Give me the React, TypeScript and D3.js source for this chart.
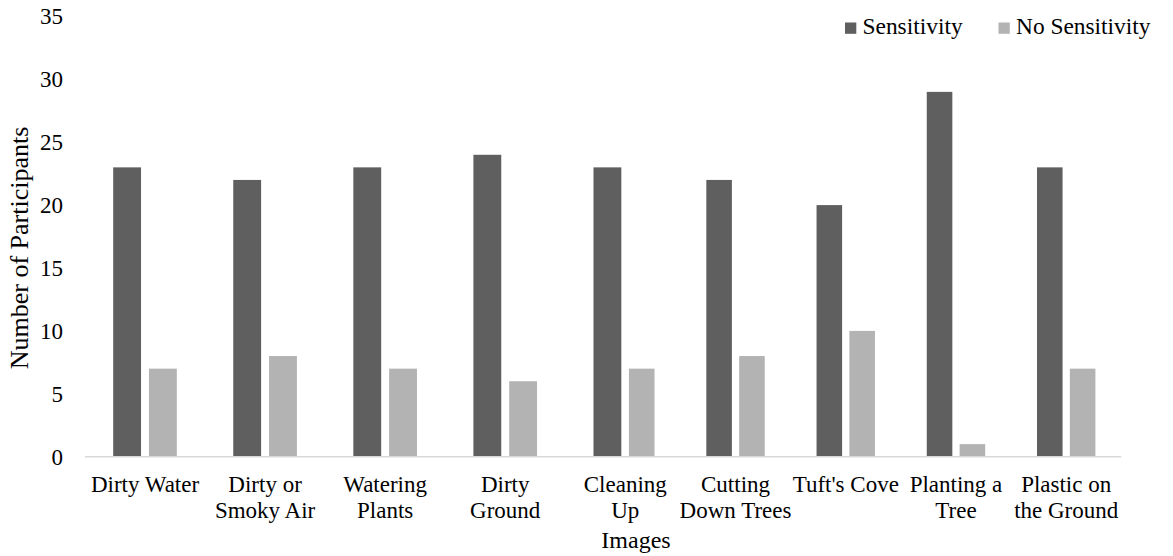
import React from "react";
import * as d3 from "d3";

// Participant counts per image
const categories: string[] = [
  "Dirty Water",
  "Dirty or\nSmoky Air",
  "Watering\nPlants",
  "Dirty\nGround",
  "Cleaning\nUp",
  "Cutting\nDown Trees",
  "Tuft's Cove",
  "Planting a\nTree",
  "Plastic on\nthe Ground",
];
const sensitivity: number[] = [23, 22, 23, 24, 23, 22, 20, 29, 23];
const noSensitivity: number[] = [7, 8, 7, 6, 7, 8, 10, 1, 7];
const yTicks: number[] = [0, 5, 10, 15, 20, 25, 30, 35];
const seriesNames: string[] = ["Sensitivity", "No Sensitivity"];

const W = 1173;
const H = 556;
const FONT = '"Liberation Serif", "Times New Roman", "DejaVu Serif", serif';
const DARK = "#5f5f5f";
const LIGHT = "#b3b3b3";
const AXIS = "#d9d9d9";
const textStyle = { fontFamily: FONT };

// category index -> horizontal centre
const x = d3
  .scaleLinear()
  .domain([0, 4, 8])
  .range([145, 625.3, 1066.2]);

const y = d3.scaleLinear().domain([0, 35]).range([456.7, 16.4]);

// bar extents relative to the category centre, in category units
const barOffsets: [number, number][] = [
  [-0.265, -0.033],
  [0.033, 0.265],
];

export default function App() {
  const series = [sensitivity, noSensitivity];
  const colors = [DARK, LIGHT];

  return (
    <svg
      width={W}
      height={H}
      viewBox={`0 0 ${W} ${H}`}
      style={{ position: "absolute", left: 0, top: 0, background: "#fff" }}
    >
      {/* y tick labels */}
      {yTicks.map((t) => (
        <text
          key={t}
          x={63}
          y={y(t)}
          dy="0.35em"
          textAnchor="end"
          fontSize={23}
          fill="#000"
          style={textStyle}
        >
          {t}
        </text>
      ))}

      {/* y axis title */}
      <text
        transform={`translate(28,248) rotate(-90)`}
        textAnchor="middle"
        fontSize={26}
        fill="#000"
        style={textStyle}
      >
        Number of Participants
      </text>

      {/* bars */}
      {series.map((vals, s) =>
        vals.map((v, i) => {
          const x0 = x(i + barOffsets[s][0]);
          const x1 = x(i + barOffsets[s][1]);
          return (
            <rect
              key={`${s}-${i}`}
              x={x0}
              y={y(v)}
              width={x1 - x0}
              height={y(0) - y(v)}
              fill={colors[s]}
            />
          );
        })
      )}

      {/* category axis line */}
      <line
        x1={x(-0.5)}
        x2={x(8.5)}
        y1={y(0)}
        y2={y(0)}
        stroke={AXIS}
        strokeWidth={1.5}
      />

      {/* category labels */}
      {categories.map((c, i) => (
        <text
          key={c}
          x={x(i)}
          y={492}
          textAnchor="middle"
          fontSize={23}
          fill="#000"
          style={textStyle}
        >
          {c.split("\n").map((line, k) => (
            <tspan key={k} x={x(i)} dy={k === 0 ? 0 : 26}>
              {line}
            </tspan>
          ))}
        </text>
      ))}

      {/* x axis title */}
      <text
        x={636}
        y={548}
        textAnchor="middle"
        fontSize={24}
        fill="#000"
        style={textStyle}
      >
        Images
      </text>

      {/* legend */}
      {seriesNames.map((name, s) => {
        const lx = [845, 998.5][s];
        return (
          <g key={name}>
            <rect x={lx} y={22.5} width={11.3} height={11.3} fill={colors[s]} />
            <text
              x={lx + 17.5}
              y={33.5}
              fontSize={23.4}
              fill="#000"
              style={textStyle}
            >
              {name}
            </text>
          </g>
        );
      })}
    </svg>
  );
}
